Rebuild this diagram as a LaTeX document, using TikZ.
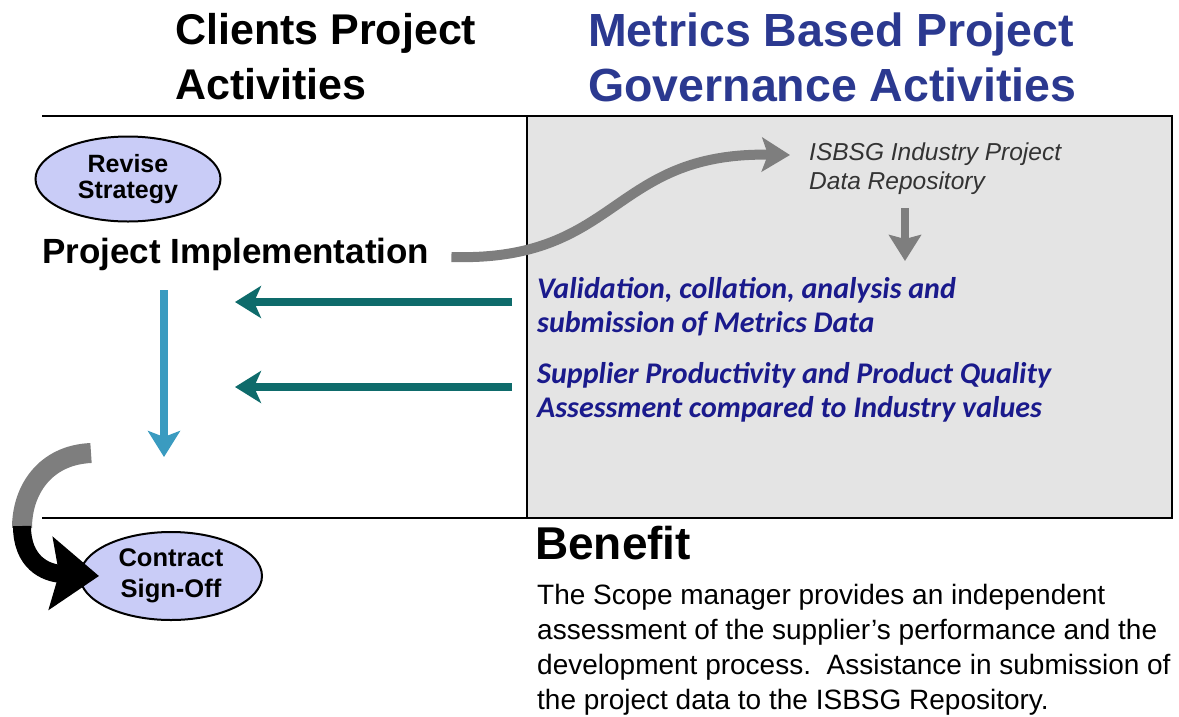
\documentclass[tikz,border=0pt]{standalone}
\usepackage{fontspec}
\setmainfont{Liberation Sans}
\newfontfamily\calfont{Carlito}
\usetikzlibrary{arrows.meta,shapes.geometric}
\definecolor{titleblue}{HTML}{2B3990}
\definecolor{ovalfill}{HTML}{C9CCF7}
\definecolor{boxgray}{HTML}{E4E4E4}
\definecolor{tealarrow}{HTML}{0E6B6B}
\definecolor{bluearrow}{HTML}{3A9BC0}
\definecolor{navytext}{HTML}{1A1A8C}
\definecolor{curvegray}{HTML}{7E7E7E}
\tikzset{
  oval/.style={draw, ellipse, line width=2pt, fill=ovalfill, inner sep=0pt,
    minimum width=185pt, minimum height=85pt, align=center,
    font=\fontsize{25}{26}\selectfont\bfseries},
  heading/.style={anchor=north west, inner sep=0pt, align=left,
    font=\fontsize{43}{55}\selectfont\bfseries},
  metric/.style={anchor=north west, inner sep=0pt, align=left, text=navytext,
    font=\calfont\fontsize{30}{34}\selectfont\bfseries\itshape},
  backarrow/.style={draw=tealarrow, line width=7.5pt,
    -{Stealth[width=32pt,length=26pt,inset=7pt]}},
}
\begin{document}
\begin{tikzpicture}[x=1pt,y=-1pt]
\useasboundingbox (0,0) rectangle (1179,716);
% headings
\node[heading] (client) at (175,13) {Clients Project\\Activities};
\node[heading, text=titleblue, font=\fontsize{46.5}{55}\selectfont\bfseries] (govern) at (588,13) {Metrics Based Project\\Governance Activities};
% frame
\draw[line width=2pt, fill=boxgray] (527,116) rectangle (1172,518);
\draw[line width=2pt] (42,116) -- (527,116);
\draw[line width=2pt] (42,518) -- (527,518);
% client side
\node[oval] (revise) at (128,179) {Revise\\Strategy};
\node[anchor=west, inner sep=0pt, font=\fontsize{35}{40}\selectfont\bfseries] (impl) at (42,254) {Project Implementation};
\node[oval, minimum width=182pt, minimum height=88pt, font=\fontsize{25.5}{31}\selectfont\bfseries] (signoff) at (171,576) {Contract\\Sign-Off};
\coordinate (implend) at (164,457);
\draw[draw=bluearrow, line width=8pt, -{Stealth[width=32pt,length=26pt,inset=6pt]}] (164,290) -- (implend);
% governance side
\node[anchor=north west, inner sep=0pt, align=left, text=black!80,
  font=\fontsize{24.5}{29}\selectfont\itshape] (isbsg) at (809,143) {ISBSG Industry Project\\Data Repository};
\coordinate (isbsgin) at (790,155);
\draw[draw=curvegray, line width=10pt, -{Stealth[width=34pt,length=28pt,inset=6pt]}]
  (impl.east) ++(22,3) .. controls (620,262) and (610,152) .. (isbsgin);
\node[metric] (valid) at (537,277) {Validation, collation, analysis and\\submission of Metrics Data};
\node[metric] (assess) at (537,362) {Supplier Productivity and Product Quality\\Assessment compared to Industry values};
\draw[draw=curvegray, line width=8pt, -{Stealth[width=32pt,length=26pt,inset=4pt]}] (905,208) -- (905,261);
\coordinate (validend) at (235,302);
\coordinate (assessend) at (235,387);
\draw[backarrow] (512,302) -- (validend);
\draw[backarrow] (512,387) -- (assessend);
% wrap-up arrow
\draw[draw=curvegray, line width=20pt] (91,453) .. controls (45,455) and (22,490) .. (22,528);
\draw[line width=18pt, -{Stealth[width=72pt,length=48pt,inset=8pt]}] (22,526) .. controls (22,562) and (45,573) .. ([xshift=20pt]signoff.west);
% benefit
\node[anchor=north west, inner sep=0pt, font=\fontsize{46}{50}\selectfont\bfseries] (benefit) at (535,526) {Benefit};
\node[anchor=north west, inner sep=0pt, align=left, font=\fontsize{28}{35}\selectfont] (note) at (537,584)
  {The Scope manager provides an independent\\assessment of the supplier’s performance and the\\development process.\ \ Assistance in submission of\\the project data to the ISBSG Repository.};
\end{tikzpicture}
\end{document}
